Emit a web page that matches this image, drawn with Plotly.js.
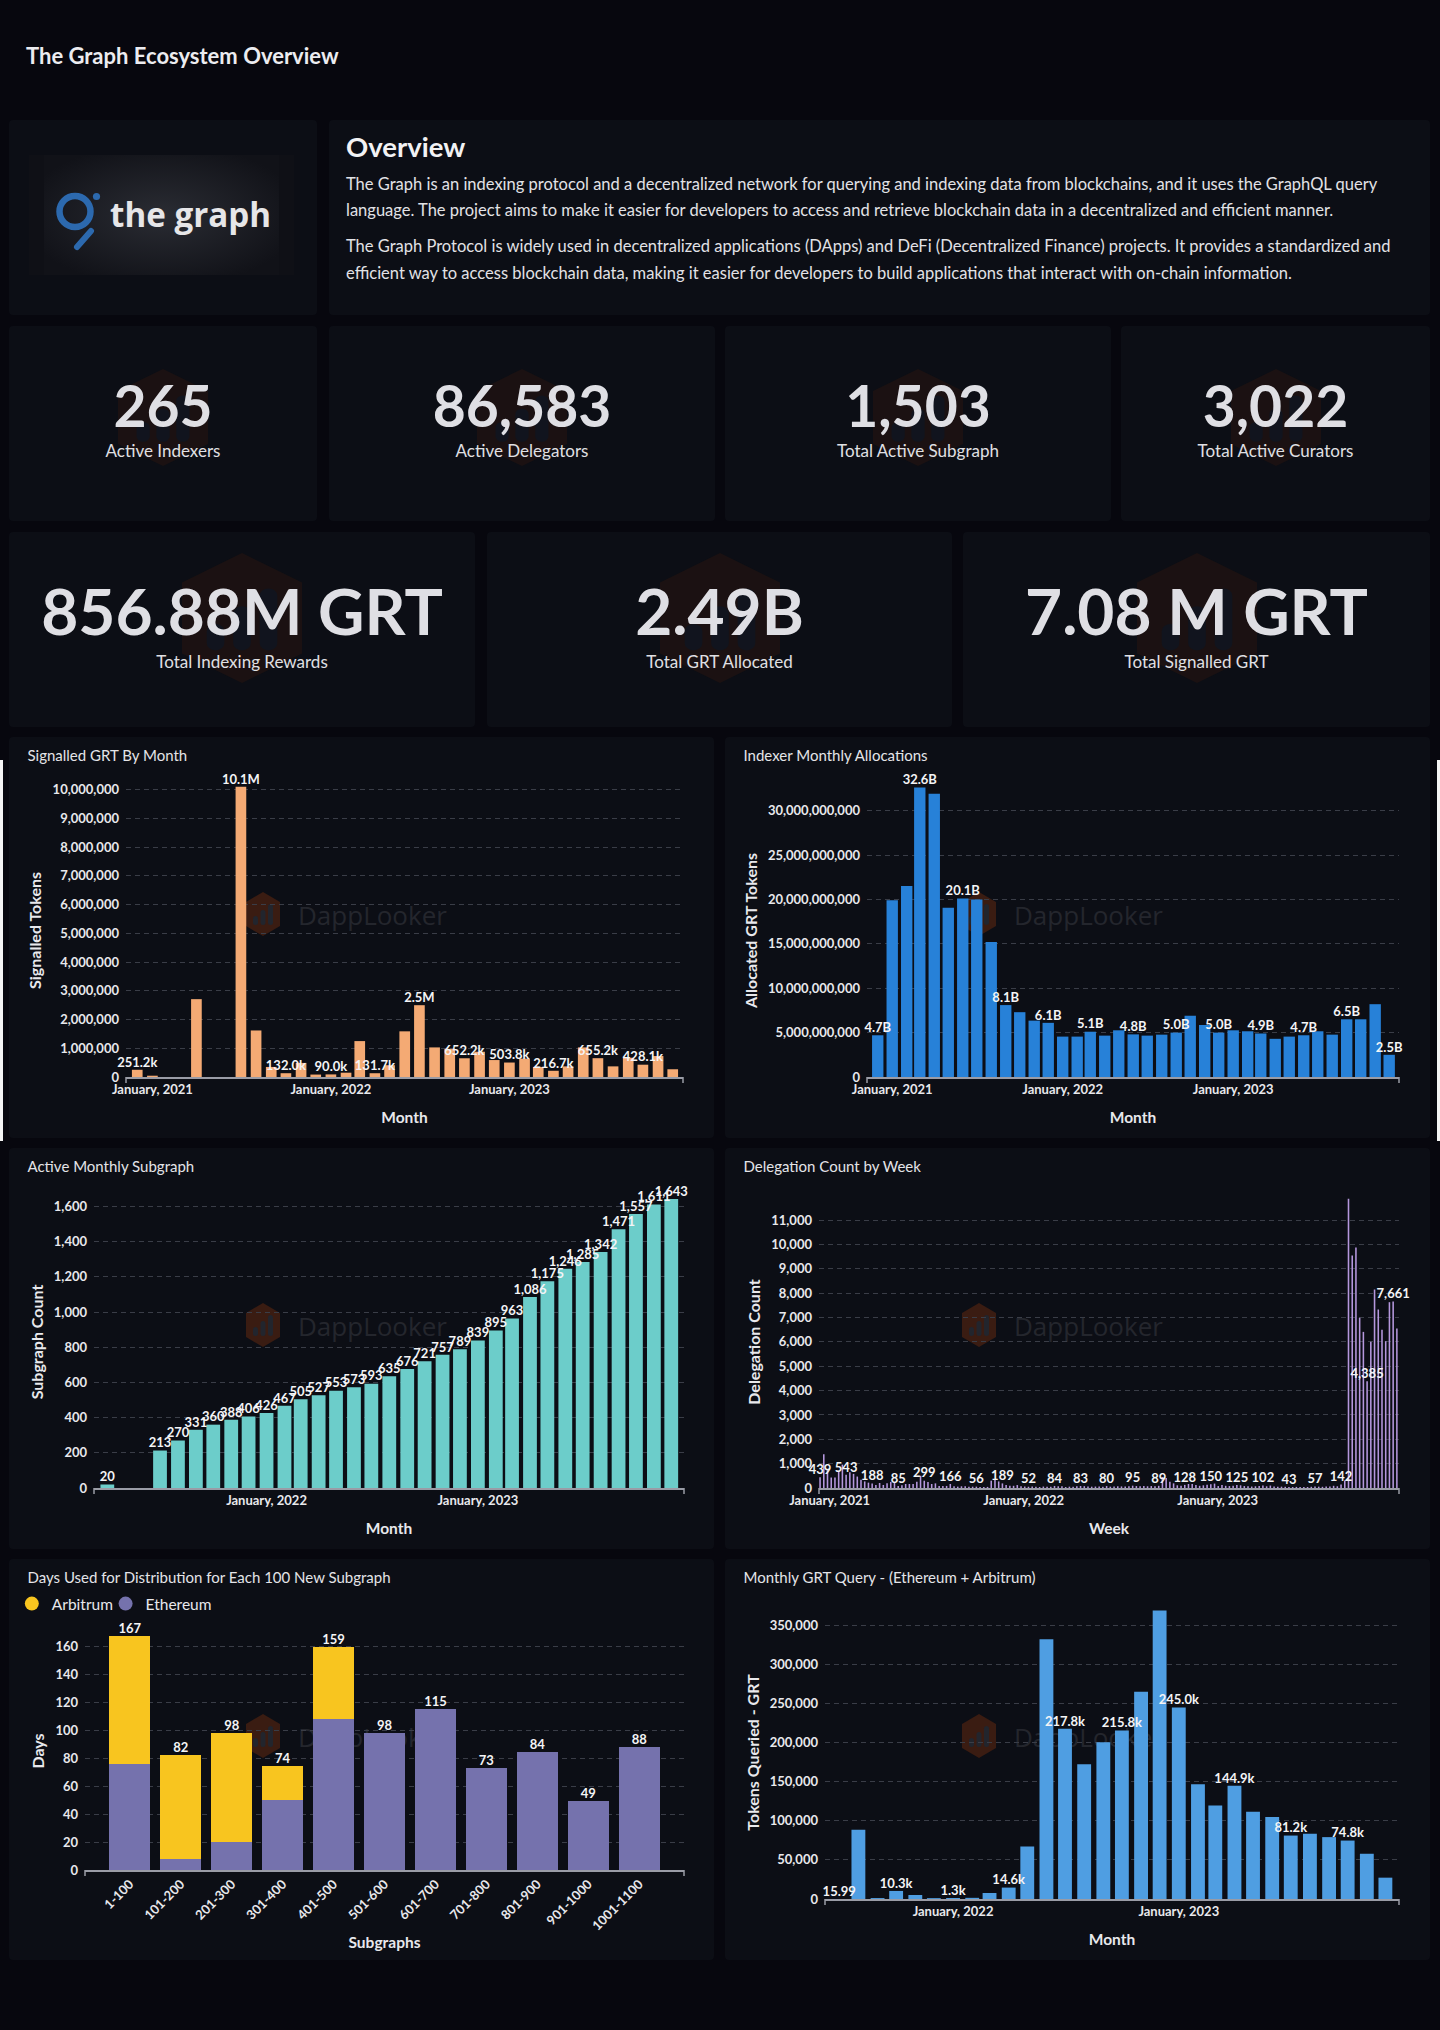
<!DOCTYPE html>
<html><head><meta charset="utf-8">
<script src="https://cdn.plot.ly/plotly-3.0.1.min.js"></script>
<style>
html,body{margin:0;padding:0;background:#07070e;}
body{width:1440px;height:2030px;position:relative;overflow:hidden;font-family:Lato,'Noto Sans',sans-serif;color:#e4e4e8;}
.card{position:absolute;background:#0c0e15;border-radius:4px;overflow:hidden;}
.abs{position:absolute;white-space:nowrap;}
.plot{position:absolute;left:0;top:0;}
.strip{position:absolute;background:#f4f4f4;}
</style></head><body>
<div id="root"></div>
<script>
// ---------------- DATA ----------------
const pageTitle = 'The Graph Ecosystem Overview';
const overviewHeading = 'Overview';
const overviewLines = [
  ['The Graph is an indexing protocol and a decentralized network for querying and indexing data from blockchains, and it uses the GraphQL query',
   'language. The project aims to make it easier for developers to access and retrieve blockchain data in a decentralized and efficient manner.'],
  ['The Graph Protocol is widely used in decentralized applications (DApps) and DeFi (Decentralized Finance) projects. It provides a standardized and',
   'efficient way to access blockchain data, making it easier for developers to build applications that interact with on-chain information.']
];
const kpiRow1Labels = ['Active Indexers','Active Delegators','Total Active Subgraph','Total Active Curators'];
const kpiRow1Values = [265, 86583, 1503, 3022];
const kpiRow2Labels = ['Total Indexing Rewards','Total GRT Allocated','Total Signalled GRT'];
const kpiRow2Values = ['856.88M GRT','2.49B','7.08 M GRT'];

// Signalled GRT By Month
const sigMonths = ['2020-12','2021-01','2021-04','2021-07','2021-08','2021-09','2021-10','2021-11','2021-12',
  '2022-01','2022-02','2022-03','2022-04','2022-05','2022-06','2022-07','2022-08','2022-09','2022-10','2022-11','2022-12',
  '2023-01','2023-02','2023-03','2023-04','2023-05','2023-06','2023-07','2023-08','2023-09','2023-10','2023-11','2023-12'];
const sigValues = [251200,45000,2710000,10100000,1620000,350000,132000,490000,85000,
  90000,150000,1250000,131700,410000,1590000,2500000,1030000,980000,652200,880000,590000,
  503800,640000,350000,216700,370000,1030000,655200,370000,670000,428100,730000,270000];

// Indexer Monthly Allocations (Dec 2020 .. Dec 2023)
const allocStart = '2020-12';
const allocValues = [4700000000,19900000000,21500000000,32600000000,31900000000,19060000000,20100000000,20000000000,15200000000,
  8100000000,7300000000,6350000000,6100000000,4550000000,4550000000,5100000000,4660000000,5260000000,4800000000,4660000000,
  4770000000,5000000000,6900000000,5860000000,5000000000,5260000000,5150000000,4900000000,4300000000,4550000000,4700000000,
  5150000000,4770000000,6500000000,6500000000,8200000000,2500000000];

// Active Monthly Subgraph
const subMonths = ['2021-04','2021-07','2021-08','2021-09','2021-10','2021-11','2021-12',
  '2022-01','2022-02','2022-03','2022-04','2022-05','2022-06','2022-07','2022-08','2022-09','2022-10','2022-11','2022-12',
  '2023-01','2023-02','2023-03','2023-04','2023-05','2023-06','2023-07','2023-08','2023-09','2023-10','2023-11','2023-12'];
const subValues = [20,213,270,331,360,388,406,426,467,505,527,553,573,593,635,676,721,757,789,839,895,963,1086,1175,1246,1285,1342,1471,1557,1611,1643];

// Delegation Count by Week (weeks starting 2020-12-14)
const delegStart = '2020-12-14';
const delegValues = [439,1390,760,430,430,700,960,543,650,580,470,340,270,220,188,125,205,125,195,250,
  220,85,110,165,165,165,260,500,299,250,165,190,85,85,85,166,70,55,70,70,
  55,55,56,45,45,45,300,340,270,189,120,90,90,120,70,60,52,60,50,40,
  60,50,50,84,70,70,40,55,55,75,83,75,60,55,60,65,55,80,55,60,
  70,65,60,75,95,80,75,80,70,80,75,89,450,410,260,190,110,90,128,165,
  165,120,90,110,130,150,180,80,120,90,80,90,125,110,80,70,60,70,85,102,
  70,100,60,50,55,50,43,40,45,40,45,40,50,57,55,50,65,60,90,70,
  142,310,11880,9550,9880,6990,6410,4385,6010,8150,7330,6500,6030,7630,7661,6550];

// Days Used for Distribution for Each 100 New Subgraph
const distCategories = ['1-100','101-200','201-300','301-400','401-500','501-600','601-700','701-800','801-900','901-1000','1001-1100'];
const distEthereum = [76,8,20,50,108,98,115,73,84,49,88];
const distArbitrum = [91,74,78,24,51,0,0,0,0,0,0];

// Monthly GRT Query (Jul 2021 .. Dec 2023)
const queryStart = '2021-07';
const queryValues = [15.99,88600,1200,10300,5100,1100,1300,1500,7700,14600,67200,332600,217800,172500,200600,215800,
  265300,369200,245000,146900,119700,144900,111600,104800,81200,83500,79200,74800,57900,27300];

// ---------------- HELPERS ----------------
function monthList(start, n){
  let [y,m] = start.split('-').map(Number); const out=[];
  for(let i=0;i<n;i++){ out.push(y+'-'+String(m).padStart(2,'0')+'-01'); m++; if(m>12){m=1;y++;} }
  return out;
}
function weekList(start, n){
  const d0 = new Date(start+'T00:00:00Z'); const out=[];
  for(let i=0;i<n;i++){ const d=new Date(d0.getTime()+i*7*86400000); out.push(d.toISOString().slice(0,10)); }
  return out;
}
function fmtShort(v){
  if(v>=1e9) return (v/1e9).toFixed(1)+'B';
  if(v>=1e6) return (v/1e6).toFixed(1)+'M';
  if(v>=1e3) return (v/1e3).toFixed(1)+'k';
  return String(v);
}
function fmtComma(v){ return v.toLocaleString('en-US'); }
function everyNth(vals,n,fmt){ return vals.map((v,i)=> i%n===0 ? fmt(v) : ''); }

const root = document.getElementById('root');
function el(tag, cls, style, html){
  const e=document.createElement(tag); if(cls) e.className=cls;
  if(style) e.style.cssText=style; if(html!==undefined) e.innerHTML=html; return e;
}
function card(x,y,w,h){ const c=el('div','card',`left:${x}px;top:${y}px;width:${w}px;height:${h}px;`); root.appendChild(c); return c; }

function hexSVG(w,h,fill,inner){
  return `<svg width="${w}" height="${h}" viewBox="0 0 34 44" preserveAspectRatio="none">
  <polygon points="17,0 34,10 34,34 17,44 0,34 0,10" fill="${fill}"/>
  <rect x="7" y="24" width="5" height="9" rx="2.5" fill="${inner}"/>
  <rect x="14.5" y="18" width="5" height="15" rx="2.5" fill="${inner}"/>
  <rect x="22" y="12" width="5" height="21" rx="2.5" fill="${inner}"/>
  </svg>`;
}

// ---------------- HEADER ----------------
root.appendChild(el('div','abs','left:26px;top:45px;font-size:22px;line-height:22px;font-weight:700;color:#ececf0;',pageTitle));

// logo card
const lc = card(9,120,308,195);
lc.innerHTML = `<svg width="308" height="195" style="position:absolute;left:0;top:0">
 <defs><radialGradient id="lg" cx="50%" cy="50%" r="60%">
   <stop offset="0" stop-color="#2a2c33"/><stop offset="1" stop-color="#111218"/></radialGradient></defs>
 <rect x="20" y="35" width="265" height="120" fill="#0f1016"/>
 <rect x="35" y="35" width="235" height="120" fill="url(#lg)"/>
 <circle cx="66" cy="91.5" r="15.5" fill="none" stroke="#2c69ae" stroke-width="6.5"/>
 <circle cx="87.5" cy="76.5" r="3.6" fill="#2c69ae"/>
 <line x1="82" y1="111" x2="68" y2="127" stroke="#2c69ae" stroke-width="6" stroke-linecap="round"/>
 <text x="101" y="107" font-family="Open Sans, Lato, sans-serif" font-weight="700" font-size="34" fill="#e6e6e8" textLength="161" lengthAdjust="spacingAndGlyphs">the graph</text>
</svg>`;

// overview card
const oc = card(329,120,1101,195);
oc.appendChild(el('div','abs','left:17px;top:13px;font-size:27.5px;line-height:27.5px;font-weight:700;color:#f2f2f4;',overviewHeading));
const lineTops = [[56,82],[118,145]];
overviewLines.forEach((p,pi)=>p.forEach((ln,li)=>{
  oc.appendChild(el('div','abs',`left:17px;top:${lineTops[pi][li]}px;font-size:16.5px;line-height:16.5px;color:#e2e2e6;`,ln));
}));

// KPI row 1
const r1x=[9,329,725,1121], r1w=[308,386,386,309];
kpiRow1Labels.forEach((lab,i)=>{
  const c=card(r1x[i],326,r1w[i],195);
  c.appendChild(el('div','abs',`left:${r1w[i]/2-45}px;top:43px;opacity:0.5`,hexSVG(90,97,'#2a1510','#161b27')));
  c.appendChild(el('div','abs',`left:0;width:${r1w[i]}px;text-align:center;top:51px;font-size:57px;line-height:57px;font-weight:700;color:#dfdfe4;`,fmtComma(kpiRow1Values[i])));
  c.appendChild(el('div','abs',`left:0;width:${r1w[i]}px;text-align:center;top:116px;font-size:17px;line-height:17px;color:#e0e0e4;`,lab));
});
// KPI row 2
const r2x=[9,487,963], r2w=[466,465,467];
kpiRow2Labels.forEach((lab,i)=>{
  const c=card(r2x[i],532,r2w[i],195);
  c.appendChild(el('div','abs',`left:${r2w[i]/2-60}px;top:21px;opacity:0.5`,hexSVG(120,130,'#2a1510','#161b27')));
  c.appendChild(el('div','abs',`left:0;width:${r2w[i]}px;text-align:center;top:47px;font-size:64px;line-height:64px;font-weight:700;color:#dfdfe4;`,kpiRow2Values[i]));
  c.appendChild(el('div','abs',`left:0;width:${r2w[i]}px;text-align:center;top:121px;font-size:17px;line-height:17px;color:#e0e0e4;`,lab));
});

// white edge strips behind first chart row
root.appendChild(el('div','strip','left:0;top:760px;width:3px;height:381px;'));
root.appendChild(el('div','strip','left:1437px;top:760px;width:3px;height:381px;'));

// ---------------- CHARTS ----------------
const W=705, H=401;
const AX='#9a9ca6', GRID='#3a3d47', TXT='#e8e8ec';
const tickFont={family:'Lato',size:13,color:TXT,weight:700};
const axTitleFont={family:'Lato',size:16,color:TXT,weight:700};
const xTitleFont={family:'Lato',size:15.5,color:TXT,weight:700};
const labelFont={family:'Lato',size:13,color:'#f4f4f6',weight:700};

function chartCard(x,y){
  const c=card(x,y,W,H);
  const wm=el('div','abs','left:237px;top:155px;');
  wm.innerHTML = hexSVG(34,44,'#3a1c12','#22252d') +
   `<span style="position:absolute;left:52px;top:10px;font-family:'Open Sans',sans-serif;font-size:26px;line-height:26px;color:#24262d;">DappLooker</span>`;
  c.appendChild(wm);
  const p=el('div','plot',`width:${W}px;height:${H}px;`); c.appendChild(p);
  return p;
}
function endTicks(){
  return [0,1].map(xp=>({type:'line',xref:'paper',yref:'paper',x0:xp,x1:xp,ysizemode:'pixel',yanchor:0,y0:0,y1:-6,line:{color:AX,width:1.5},layer:'above'}));
}
function baseLayout(o){
  return {
    width:W,height:H,margin:o.margin,
    paper_bgcolor:'rgba(0,0,0,0)',plot_bgcolor:'rgba(0,0,0,0)',
    font:{family:'Lato',color:TXT},
    title:{text:o.title,x:18.5/W,xref:'container',xanchor:'left',y:1-19/H,yref:'container',yanchor:'middle',font:{family:'Lato',size:15,color:'#e4e4e8'}},
    showlegend:false,bargap:o.bargap,
    xaxis:Object.assign({showgrid:false,showline:true,linecolor:AX,linewidth:1.5,ticks:'',zeroline:false,
      tickfont:tickFont,automargin:false,fixedrange:true,
      title:{text:o.xtitle,font:xTitleFont,standoff:16}},o.xaxis),
    yaxis:Object.assign({showgrid:true,gridcolor:GRID,gridwidth:1,griddash:'5px,4px',zeroline:false,showline:false,ticks:'',
      tickformat:',d',tickfont:tickFont,automargin:false,fixedrange:true,ticklabelstandoff:6,
      title:{text:o.ytitle,font:axTitleFont,standoff:6}},o.yaxis),
    shapes:endTicks()
  };
}
function dateAxis(range){ return {type:'date',range:range,tickformat:'%B, %Y',tick0:'2021-01-01',dtick:'M12'}; }
// bars plus a text layer drawn above all bars
function barWithLabels(x,y,color,text){
  return [
    {type:'bar',x:x,y:y,marker:{color:color},hoverinfo:'skip'},
    {type:'scatter',mode:'text',x:x,y:y,text:text,textposition:'top center',textfont:labelFont,marker:{size:6},cliponaxis:false,hoverinfo:'skip'}
  ];
}
const cfg={displayModeBar:false,staticPlot:true};

// 1. Signalled GRT By Month
Plotly.newPlot(chartCard(9,737),
  barWithLabels(sigMonths.map(m=>m+'-01'),sigValues,'#f4aa74',everyNth(sigValues,3,fmtShort)),
  baseLayout({title:'Signalled GRT By Month',xtitle:'Month',ytitle:'Signalled Tokens',bargap:0.22,
    margin:{l:117,r:31,t:47.3,b:61,pad:0},xaxis:dateAxis(['2020-11-08','2023-12-22']),yaxis:{range:[0,10200000],dtick:1000000}}),cfg);

// 2. Indexer Monthly Allocations
const allocMonths = monthList(allocStart, allocValues.length);
Plotly.newPlot(chartCard(725,737),
  barWithLabels(allocMonths,allocValues,'#2781d8',everyNth(allocValues,3,fmtShort)),
  baseLayout({title:'Indexer Monthly Allocations',xtitle:'Month',ytitle:'Allocated GRT Tokens',bargap:0.13,
    margin:{l:142,r:30.5,t:47.4,b:61,pad:0},xaxis:dateAxis(['2020-11-08','2023-12-22']),yaxis:{range:[0,33000000000],dtick:5000000000}}),cfg);

// 3. Active Monthly Subgraph
Plotly.newPlot(chartCard(9,1148),
  barWithLabels(subMonths.map(m=>m+'-01'),subValues,'#6ccdca',everyNth(subValues,1,fmtComma)),
  baseLayout({title:'Active Monthly Subgraph',xtitle:'Month',ytitle:'Subgraph Count',bargap:0.15,
    margin:{l:85,r:30,t:48.1,b:60.9,pad:0},xaxis:dateAxis(['2021-03-09','2023-12-23']),yaxis:{range:[0,1660],dtick:200}}),cfg);

// 4. Delegation Count by Week
const delegWeeks = weekList(delegStart, delegValues.length);
Plotly.newPlot(chartCard(725,1148),
  barWithLabels(delegWeeks,delegValues,'#b597dd',everyNth(delegValues,7,fmtComma)),
  baseLayout({title:'Delegation Count by Week',xtitle:'Week',ytitle:'Delegation Count',bargap:0.58,
    margin:{l:94,r:30.5,t:47.8,b:61.4,pad:0},xaxis:dateAxis(['2020-12-12','2023-12-08']),yaxis:{range:[0,11990],dtick:1000}}),cfg);

// 5. Days Used for Distribution
const distTotals = distEthereum.map((v,i)=>v+distArbitrum[i]);
const l5 = baseLayout({title:'Days Used for Distribution for Each 100 New Subgraph',xtitle:'Subgraphs',ytitle:'Days',bargap:0.2,
    margin:{l:76,r:30,t:73,b:89.7,pad:0},
    xaxis:{type:'category',range:[-0.88,10.88],tickangle:-45,title:{text:'Subgraphs',font:xTitleFont,standoff:4}},
    yaxis:{range:[0,170],dtick:20}});
l5.barmode='stack';
l5.showlegend=true;
const legBase={orientation:'h',xref:'container',yref:'container',y:1-45/H,yanchor:'middle',xanchor:'left',
  font:{family:'Lato',size:15.5,color:'#e8e8ec'},itemwidth:30,bgcolor:'rgba(0,0,0,0)'};
l5.legend=Object.assign({},legBase,{x:0.004});
l5.legend2=Object.assign({},legBase,{x:0.137});
Plotly.newPlot(chartCard(9,1559),[
  {type:'bar',x:distCategories,y:distEthereum,name:'Ethereum',marker:{color:'#7572ad'},showlegend:false,hoverinfo:'skip'},
  {type:'bar',x:distCategories,y:distArbitrum,name:'Arbitrum',marker:{color:'#f8c51f'},showlegend:false,hoverinfo:'skip'},
  {type:'scatter',mode:'text',x:distCategories,y:distTotals,text:distTotals.map(String),textposition:'top center',
    textfont:labelFont,marker:{size:6},cliponaxis:false,showlegend:false,hoverinfo:'skip'},
  {type:'scatter',mode:'markers',x:[null],y:[null],name:'Arbitrum',legend:'legend',marker:{color:'#f8c51f',size:14,symbol:'circle'}},
  {type:'scatter',mode:'markers',x:[null],y:[null],name:'Ethereum',legend:'legend2',marker:{color:'#7572ad',size:14,symbol:'circle'}}
], l5, cfg);

// 6. Monthly GRT Query
const queryMonths = monthList(queryStart, queryValues.length);
Plotly.newPlot(chartCard(725,1559),
  barWithLabels(queryMonths,queryValues,'#4f9ee2',everyNth(queryValues,3,fmtShort)),
  baseLayout({title:'Monthly GRT Query - (Ethereum + Arbitrum)',xtitle:'Month',ytitle:'Tokens Queried - GRT',bargap:0.2,
    margin:{l:100,r:31,t:46.7,b:60.7,pad:0},xaxis:dateAxis(['2021-06-08','2023-12-23']),yaxis:{range:[0,375000],dtick:50000}}),cfg);
</script>
</body></html>
